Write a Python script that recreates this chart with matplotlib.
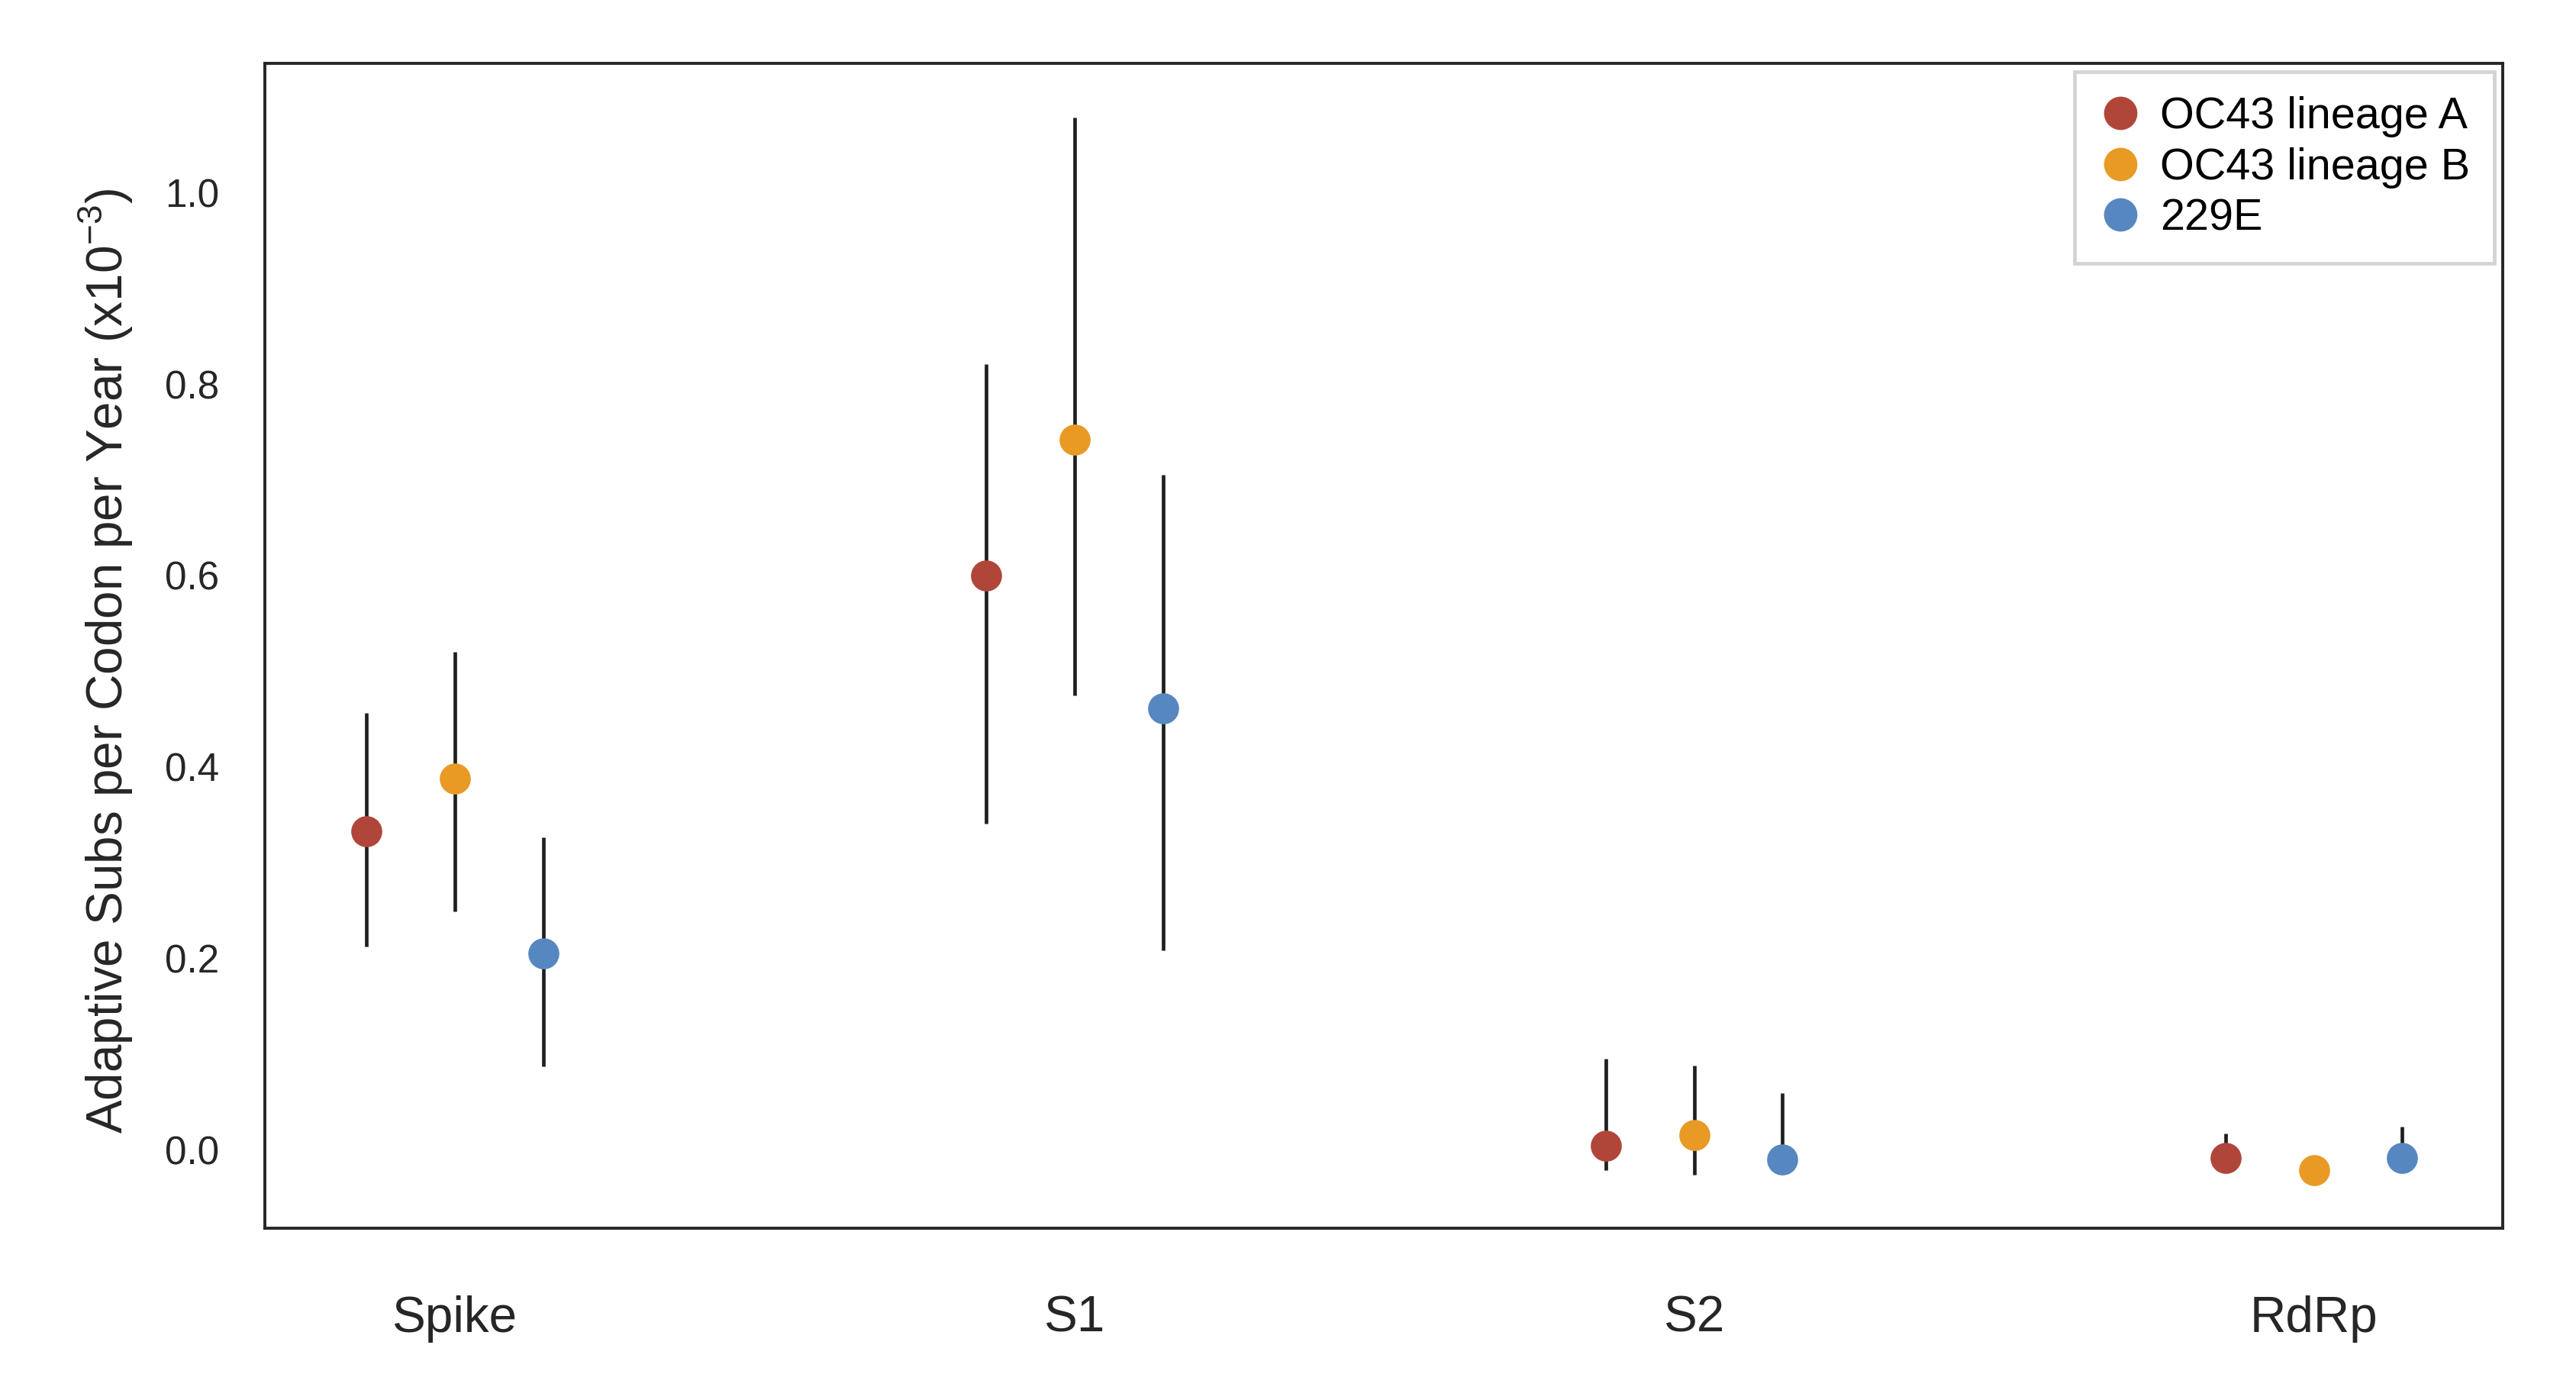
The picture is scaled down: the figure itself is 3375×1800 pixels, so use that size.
import matplotlib
matplotlib.use("Agg")
import matplotlib.pyplot as plt
from matplotlib.lines import Line2D
import numpy as np

plt.rcParams['font.family'] = ['Liberation Sans', 'DejaVu Sans']
plt.rcParams['mathtext.fontset'] = 'custom'
plt.rcParams['mathtext.rm'] = 'Liberation Sans'

# genes on the x axis
genes = ['Spike', 'S1', 'S2', 'RdRp']
lineages = ['OC43 lineage A', 'OC43 lineage B', '229E']
colors = ['#b0463a', '#e89a24', '#5787c0']

# adaptive rate (x10^-3) and interval bounds, one list per lineage
oc43a_mean = [0.333, 0.600, 0.004, -0.0085]
oc43a_lower = [0.212, 0.341, -0.021, -0.020]
oc43a_upper = [0.456, 0.821, 0.095, 0.017]

oc43b_mean = [0.388, 0.742, 0.015, -0.021]
oc43b_lower = [0.249, 0.475, -0.026, -0.028]
oc43b_upper = [0.520, 1.078, 0.088, -0.014]

e229_mean = [0.205, 0.461, -0.010, -0.0085]
e229_lower = [0.087, 0.208, -0.018, -0.020]
e229_upper = [0.326, 0.705, 0.059, 0.024]

means = [oc43a_mean, oc43b_mean, e229_mean]
lowers = [oc43a_lower, oc43b_lower, e229_lower]
uppers = [oc43a_upper, oc43b_upper, e229_upper]

fig = plt.figure(figsize=(15, 8), dpi=225)
ax = fig.add_axes([0.1028, 0.1061, 0.8688, 0.8478])

x = np.arange(len(genes))
offsets = [-0.1425, 0.0, 0.1425]

for mean, lo, hi, off, c in zip(means, lowers, uppers, offsets, colors):
    mean = np.array(mean)
    yerr = [mean - np.array(lo), np.array(hi) - mean]
    ax.errorbar(x + off, mean, yerr=yerr, fmt='o', color=c, markersize=12,
                ecolor='#1f1f1f', elinewidth=1.5, capsize=0, zorder=3)

ax.set_xlim(-0.307, 3.305)
ax.set_ylim(-0.082, 1.135)
ax.set_xticks(x)
ax.set_xticklabels(genes)
ax.set_yticks([0.0, 0.2, 0.4, 0.6, 0.8, 1.0])
ax.set_yticklabels(['0.0', '0.2', '0.4', '0.6', '0.8', '1.0'])
ax.tick_params(axis='x', length=0, pad=28, labelsize=21, colors='#262626')
ax.tick_params(axis='y', length=0, pad=19, labelsize=16.4, colors='#262626')

for s in ax.spines.values():
    s.set_color('#262626')
    s.set_linewidth(1.25)

ax.set_ylabel('Adaptive Subs per Codon per Year (x10$^{\\mathregular{-3}}$)',
              fontsize=21, color='#262626')
ax.yaxis.set_label_coords(-0.058, 0.487)

handles = [Line2D([], [], marker='o', ls='', color=c, markersize=13) for c in colors]
leg = ax.legend(handles, lineages, loc='upper right', fontsize=18.4,
                frameon=True, fancybox=False, framealpha=1, edgecolor='#d3d3d3',
                handlelength=1.0, handletextpad=0.4, borderpad=0.55,
                labelspacing=0.22, borderaxespad=0.2)
leg.get_frame().set_linewidth(1.5)

fig.savefig('out.png', dpi=225)
